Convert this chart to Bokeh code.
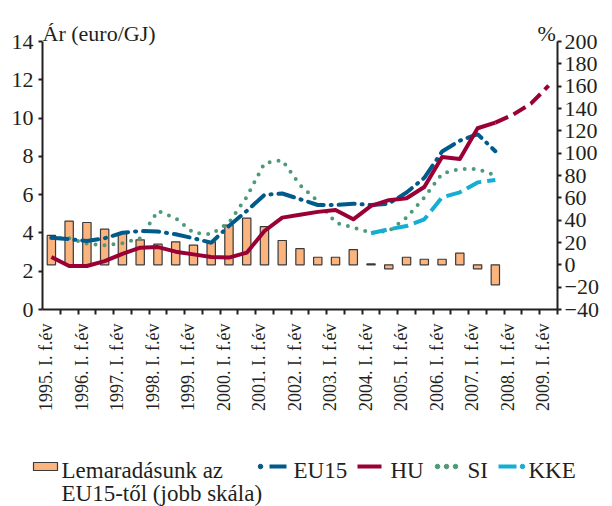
import math
from bokeh.plotting import figure
from bokeh.layouts import column
from bokeh.core.properties import value
from bokeh.models import (Range1d, LinearAxis, FixedTicker, Label, ColumnDataSource)
from bokeh.embed import file_html
from bokeh.resources import INLINE

# ---------------- data ----------------
periods = []
for y in range(1995, 2010):
    periods.append(f"{y}. I. f.év")
    if y < 2009:
        periods.append(f"{y}. II. f.év")
tick_years = list(range(1995, 2010))

gap_pct = [26.3, 39.1, 37.9, 31.9, 28.7, 22.4, 18.5, 20.6, 17.6, 20.6,
           35.5, 41.8, 34.3, 21.8, 14.5, 6.8, 6.8, 13.7, 0.8, -3.6,
           6.8, 5.0, 5.0, 10.4, -3.6, -17.9]

eu15 = [3.75, 3.67, 3.58, 3.72, 4.01, 4.10, 4.07, 3.93, 3.72, 3.49,
        4.36, 5.15, 5.99, 6.06, 5.76, 5.46, 5.46, 5.53, 5.46, 5.53,
        6.11, 6.88, 8.25, 8.82, 9.16, 8.27]

hu = [2.74, 2.27, 2.27, 2.53, 2.91, 3.23, 3.26, 3.02, 2.88, 2.74,
      2.71, 2.97, 4.10, 4.80, 4.95, 5.10, 5.20, 4.71, 5.41, 5.71,
      5.81, 6.40, 7.97, 7.86, 9.47, 9.76, 10.18, 10.75, 11.69]
hu_actual_n = 26  # solid part; the rest is a forecast (dashed)

si = [3.72, 3.72, 3.44, 3.35, 3.46, 3.72, 5.15, 4.77, 4.01, 3.93,
      4.54, 5.88, 7.65, 7.80, 6.50, 5.67, 4.54, 4.28, 4.01, 4.10,
      4.80, 5.85, 7.10, 7.34, 7.34, 7.00]

kke_start = 18
kke = [3.98, 4.19, 4.36, 4.71, 5.86, 6.12, 6.64, 6.77]

legend_bar_label = ["Lemaradásunk az", "EU15-től (jobb skála)"]
legend_line_labels = ["EU15", "HU", "SI", "KKE"]

# ---------------- styles ----------------
FONT = "Liberation Serif"
TXT = "#231f20"
C_BAR = "#fbb47e"
C_BAR_LINE = "#3a3a3a"
C_EU = "#005a8a"
C_HU = "#9a0036"
C_SI = "#4e9a78"
C_KKE = "#14aed4"

n = len(periods)
xc = [i + 0.5 for i in range(n)]

L_TOP, R_LO, R_HI = 14, -40, 200
extra_px = 31.0
px_per_unit = 268.0 / L_TOP
y_top = L_TOP + extra_px / px_per_unit
r_top = R_HI + extra_px * (R_HI - R_LO) / 268.0

W = 612
H_MAIN = 440
H_LEG = 66

p = figure(width=W, height=H_MAIN, x_range=Range1d(0, n), y_range=Range1d(0, y_top),
           output_backend="svg", toolbar_location=None,
           min_border_left=42, min_border_right=55, min_border_top=10,
           min_border_bottom=H_MAIN - 309)
p.frame_align = False
p.outline_line_color = None
p.xgrid.visible = False
p.ygrid.visible = False
p.background_fill_color = "white"
p.border_fill_color = "white"
p.extra_y_ranges = {"right": Range1d(R_LO, r_top)}

# x axis
xa = p.xaxis[0]
tick_pos = [2 * k + 0.2 for k in range(len(tick_years))]
xa.ticker = FixedTicker(ticks=tick_pos, minor_ticks=list(range(1, n + 1)))
xa.major_label_overrides = {tp: f"{y}. I. f.év" for tp, y in zip(tick_pos, tick_years)}
xa.major_label_orientation = math.pi / 2
xa.major_tick_line_color = None
xa.major_tick_out = 5
xa.major_tick_in = 0
xa.minor_tick_out = 5
xa.minor_tick_in = 0
xa.minor_tick_line_width = 2
xa.minor_tick_line_color = TXT
xa.axis_line_width = 2
xa.axis_line_color = TXT
xa.major_label_standoff = 9
xa.major_label_text_font = FONT
xa.major_label_text_font_size = "18px"
xa.major_label_text_color = TXT

# left axis
ya = p.yaxis[0]
ya.ticker = FixedTicker(ticks=list(range(0, 15, 2)))
ya.bounds = (0, L_TOP)
ya.major_tick_out = 4
ya.major_tick_in = 0
ya.major_tick_line_width = 2
ya.major_tick_line_color = TXT
ya.minor_tick_line_color = None
ya.axis_line_width = 2
ya.axis_line_color = TXT
ya.major_label_standoff = 5
ya.major_label_text_font = FONT
ya.major_label_text_font_size = "22px"
ya.major_label_text_color = TXT

# right axis
ra = LinearAxis(y_range_name="right", ticker=FixedTicker(ticks=list(range(-40, 201, 20))),
                bounds=(R_LO, R_HI))
ra.major_label_overrides = {-40: "\u221240", -20: "\u221220"}
ra.major_tick_out = 4
ra.major_tick_in = 0
ra.major_tick_line_width = 2
ra.major_tick_line_color = TXT
ra.minor_tick_line_color = None
ra.axis_line_width = 2
ra.axis_line_color = TXT
ra.major_label_standoff = 3
ra.major_label_text_font = FONT
ra.major_label_text_font_size = "22px"
ra.major_label_text_color = TXT
p.add_layout(ra, "right")

# bars (right scale)
bar_src = ColumnDataSource(dict(x=xc[:len(gap_pct)], top=gap_pct))
p.vbar(x="x", top="top", bottom=0, width=0.47, source=bar_src,
       fill_color=C_BAR, line_color=C_BAR_LINE, line_width=1.2,
       y_range_name="right")

# lines (left scale)
p.line(xc[:len(si)], si, line_color=C_SI, line_width=4, line_dash="0 9",
       line_cap="round")
p.line(xc[kke_start:kke_start + len(kke)], kke, line_color=C_KKE,
       line_width=4, line_dash="16 6")
p.line(xc[:len(eu15)], eu15, line_color=C_EU, line_width=4,
       line_dash="16 7 1 7", line_cap="round")
p.line(xc[:hu_actual_n], hu[:hu_actual_n], line_color=C_HU, line_width=4,
       line_join="round")
p.line(xc[hu_actual_n - 1:len(hu)], hu[hu_actual_n - 1:], line_color=C_HU,
       line_width=4, line_dash="14 6")

# titles of axes
p.add_layout(Label(x=0, y=14.42, text="Ár (euro/GJ)", text_font=FONT,
                   text_font_size="22px", text_color=TXT, text_baseline="alphabetic",
                   text_align="left"))
p.add_layout(Label(x=n - 0.1, y=14.42, text="%", text_font=FONT,
                   text_font_size="22px", text_color=TXT, text_baseline="alphabetic",
                   text_align="right"))

# ---------------- legend strip (pixel coordinates, y downward) ----------------
q = figure(width=W, height=H_LEG, x_range=Range1d(0, W), y_range=Range1d(H_LEG, 0),
           output_backend="svg", toolbar_location=None,
           min_border_left=0, min_border_right=0, min_border_top=0, min_border_bottom=0)
q.frame_align = False
q.axis.visible = False
q.grid.visible = False
q.outline_line_color = None
q.background_fill_color = "white"
q.border_fill_color = "white"

SW_Y = 26      # swatch centre line
BASE1 = 30     # first text baseline
BASE2 = 53     # second text baseline
LEG_FS = "23px"

# bar swatch
q.quad(left=[33], right=[57], top=[SW_Y - 4], bottom=[SW_Y + 4],
       fill_color=C_BAR, line_color=C_BAR_LINE, line_width=1.2)
q.text(x=[61, 61], y=[BASE1, BASE2], text=legend_bar_label, text_font=value(FONT),
       text_font_size=LEG_FS, text_color=TXT, text_baseline="alphabetic")

# EU15 swatch: dot + dash
q.scatter(x=[260], y=[SW_Y], size=4.5, marker="circle", color=C_EU)
q.segment(x0=[269], y0=[SW_Y], x1=[286], y1=[SW_Y], line_color=C_EU, line_width=4)
# HU swatch
q.segment(x0=[357], y0=[SW_Y], x1=[381], y1=[SW_Y], line_color=C_HU, line_width=4)
# SI swatch: dots
q.scatter(x=[437, 446, 455], y=[SW_Y] * 3, size=4.5, marker="circle", color=C_SI)
# KKE swatch: dash + dot
q.segment(x0=[498], y0=[SW_Y], x1=[516], y1=[SW_Y], line_color=C_KKE, line_width=4)
q.scatter(x=[522], y=[SW_Y], size=4.5, marker="circle", color=C_KKE)

q.text(x=[293, 390, 467, 528], y=[BASE1] * 4, text=legend_line_labels,
       text_font=value(FONT), text_font_size=LEG_FS, text_color=TXT,
       text_baseline="alphabetic")

layout = column(p, q, spacing=0)
open("out.html", "w").write(file_html(layout, INLINE))
